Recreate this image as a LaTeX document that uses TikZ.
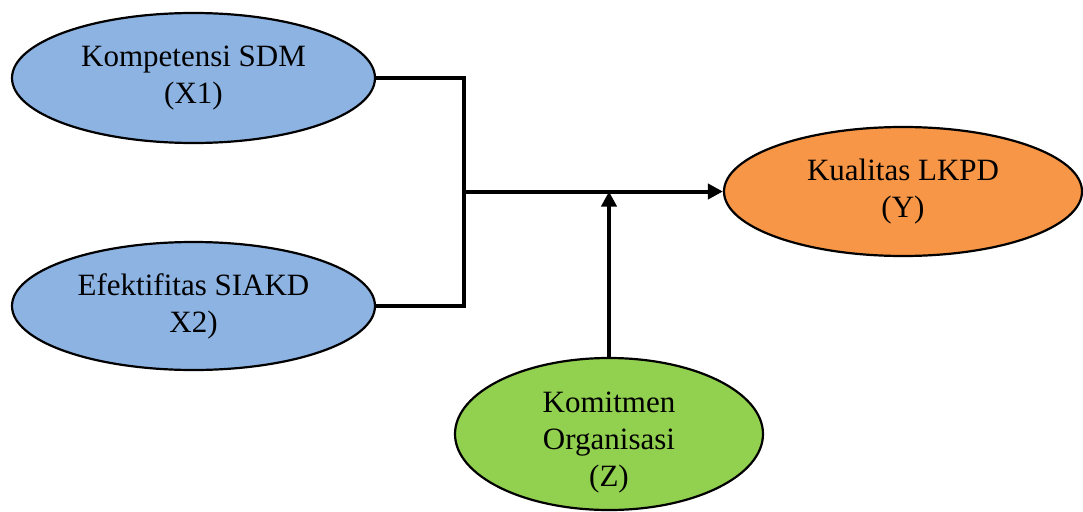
\documentclass[tikz,border=0pt]{standalone}
\usepackage{fontspec}
\setmainfont{Liberation Serif}
\usetikzlibrary{shapes.geometric,arrows.meta}
\definecolor{varblue}{HTML}{8DB3E2}
\definecolor{varorange}{HTML}{F79646}
\definecolor{vargreen}{HTML}{92D050}
\begin{document}
\begin{tikzpicture}[x=1pt,y=-1pt,
  var/.style={ellipse,draw=black,line width=2.2pt,inner sep=0pt,align=center,
    font=\fontsize{31}{37}\selectfont},
  vartext/.style={inner sep=0pt,align=center,font=\fontsize{31}{37}\selectfont},
  link/.style={line width=4pt},
  arr/.style={line width=4pt,-{Triangle[length=15pt,width=15pt]}}]
\useasboundingbox (0,0) rectangle (1083,511);
\node[var,fill=varblue,minimum width=363pt,minimum height=130pt] (x1) at (193.5,78) {Kompetensi SDM\\(X1)};
\node[var,fill=varblue,minimum width=363pt,minimum height=128pt] (x2) at (193.5,306) {Efektifitas SIAKD\\X2)};
\node[var,fill=varorange,minimum width=358pt,minimum height=129pt] (y) at (903,191.5) {Kualitas LKPD\\(Y)};
\node[var,fill=vargreen,minimum width=308pt,minimum height=152pt] (z) at (609,434) {};
\node[vartext] (zt) at ([yshift=-9pt]z.center) {Komitmen\\Organisasi\\(Z)};
\coordinate (j) at (464,191.5);
% the two independent variables join on one vertical bar
\draw[link,line join=miter] (x1.east) -- (x1.east -| j) -- (x2.east -| j) -- (x2.east);
\draw[arr] (j) -- (y.west);
\draw[arr] (z.north) -- (z.north |- j);
\end{tikzpicture}
\end{document}
